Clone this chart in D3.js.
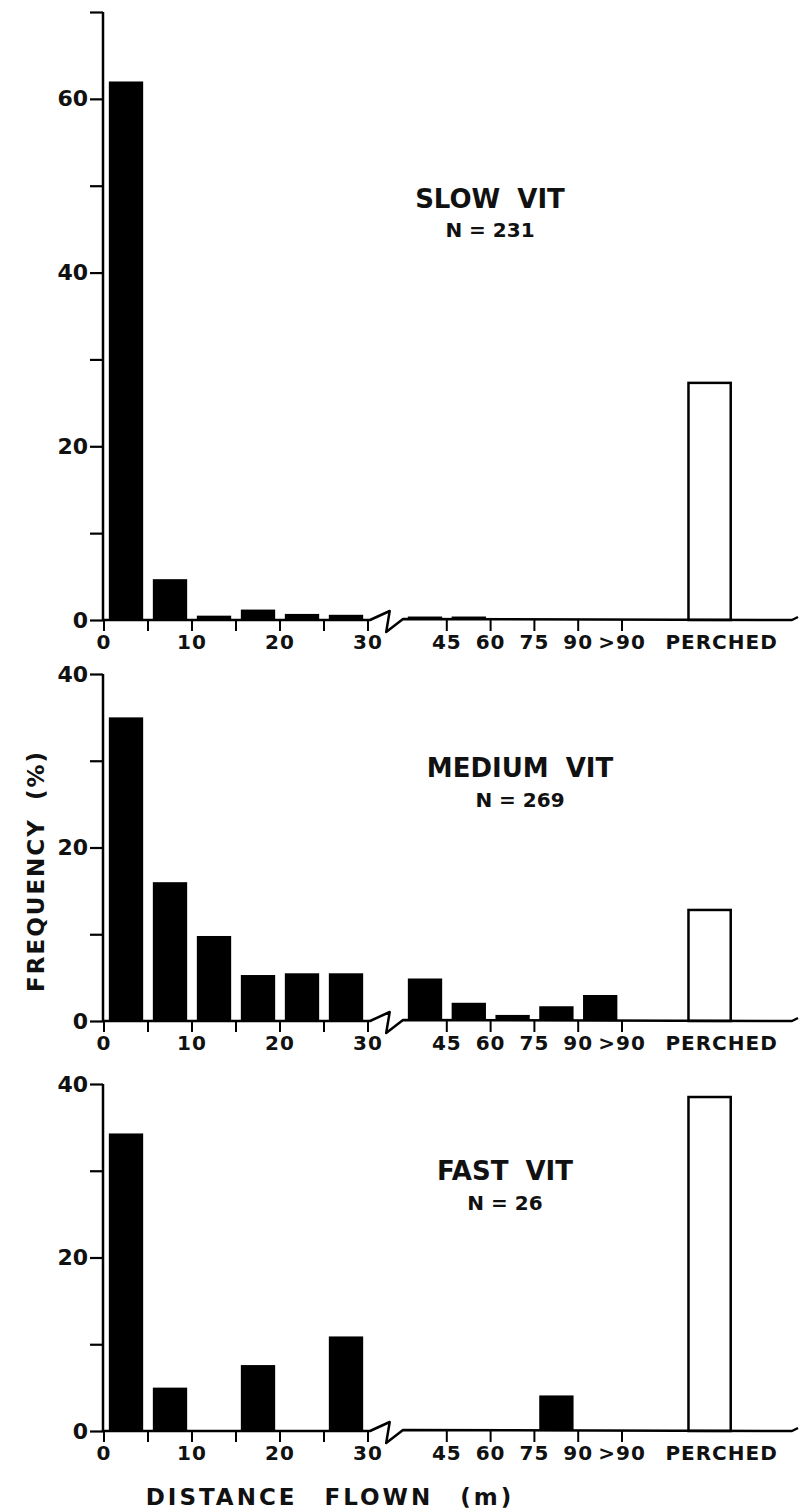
<!DOCTYPE html>
<html>
  <head>
    <title>Distance flown</title>
    <script src="https://d3js.org/d3.v7.min.js"></script>
    <style>
      body { margin: 0; background: #fff; }
      text { font-family: "DejaVu Sans", sans-serif; font-weight: bold; fill: #111; }
      .tick-label { font-size: 20px; letter-spacing: 1px; }
      .y-label { font-size: 22px; }
      .panel-title { font-size: 26px; word-spacing: 8px; }
      .panel-n { font-size: 20px; }
      .axis-title { font-size: 23px; letter-spacing: 3px; word-spacing: 16px; }
    </style>
  </head>
  <body>
    <svg width="810" height="1512"></svg>
    <script>
      // distance bins (m); the axis is broken after 30
      const bins = ["0-5", "5-10", "10-15", "15-20", "20-25", "25-30",
                    "30-45", "45-60", "60-75", "75-90", ">90"];
      const boundaryLabels = ["0", "", "10", "", "20", "", "30",
                              "45", "60", "75", "90", ">90"];

      const panelTitles = ["SLOW  VIT", "MEDIUM  VIT", "FAST  VIT"];
      const panelN = ["N = 231", "N = 269", "N = 26"];
      const yMax = [70, 40, 40];

      const slowValues   = [62, 4.7, 0.5, 1.2, 0.7, 0.6, 0.4, 0.4, 0, 0, 0];
      const mediumValues = [35, 16, 9.8, 5.3, 5.5, 5.5, 4.9, 2.1, 0.7, 1.7, 3.0];
      const fastValues   = [34.3, 5.0, 0, 7.6, 0, 10.9, 0, 0, 0, 4.1, 0];
      const perchedValues = [27.3, 12.8, 38.5];

      const seriesValues = [slowValues, mediumValues, fastValues];

      // layout of the three stacked panels
      const panelLayout = [
        { zero: 620, top: 12, titleX: 490, titleY: 208, nY: 237 },
        { zero: 1021, top: 674, titleX: 520, titleY: 777, nY: 807 },
        { zero: 1431, top: 1084, titleX: 505, titleY: 1180, nY: 1210 }
      ];

      const svg = d3.select("svg");

      // piecewise x: left of break and right of break
      const xLeft = d3.scaleLinear().domain([0, 6]).range([104, 368]);
      const xRight = d3.scaleLinear().domain([6, 11]).range([403, 622]);
      const step = xLeft(1) - xLeft(0);
      const xEdge = i => (i < 6 ? xLeft(i) : xRight(i));
      const xBoundary = i => (i <= 6 ? xLeft(i) : xRight(i));
      const barW = step * 0.78;
      const perchedX = xRight(13);
      const axisEnd = 798;

      panelLayout.forEach((p, k) => {
        const y = d3.scaleLinear().domain([0, yMax[k]]).range([p.zero, p.top]);
        const g = svg.append("g");

        // bars
        g.selectAll(".bar")
          .data(seriesValues[k])
          .enter().append("rect")
            .attr("class", "bar")
            .attr("x", (d, i) => xEdge(i) + (step - barW) / 2)
            .attr("y", d => y(d))
            .attr("width", barW)
            .attr("height", d => y(0) - y(d))
            .attr("fill", "#000");

        // perched bar (open)
        g.append("rect")
          .attr("x", perchedX - step * 0.48)
          .attr("y", y(perchedValues[k]))
          .attr("width", step * 0.96)
          .attr("height", y(0) - y(perchedValues[k]))
          .attr("fill", "#fff")
          .attr("stroke", "#000")
          .attr("stroke-width", 2.5);

        // y axis
        const yAxis = d3.axisLeft(y)
          .tickValues(d3.range(0, yMax[k] + 1, 10))
          .tickSize(13)
          .tickPadding(2)
          .tickFormat(d => (d % 20 === 0 ? d : ""));
        const ya = g.append("g")
          .attr("transform", `translate(${xLeft(0) - 1},0)`)
          .call(yAxis);
        ya.select(".domain").remove();
        ya.selectAll("line").attr("stroke", "#000").attr("stroke-width", 2.2);
        ya.selectAll("text").attr("class", "y-label").attr("fill", "#111");
        g.append("line")
          .attr("x1", xLeft(0) - 1).attr("x2", xLeft(0) - 1)
          .attr("y1", y(0)).attr("y2", y(yMax[k]))
          .attr("stroke", "#000").attr("stroke-width", 2.5);

        // x baseline with break
        const y0 = y(0);
        const bx1 = xLeft(6), bx2 = xRight(6), bw = bx2 - bx1;
        const path = d3.path();
        path.moveTo(xLeft(0) - 1, y0);
        path.lineTo(bx1 + 2, y0);
        path.lineTo(bx1 + bw * 0.62, y0 - 9);
        path.lineTo(bx1 + bw * 0.52, y0 + 12);
        path.lineTo(bx2, y0 - 1);
        path.lineTo(axisEnd - 6, y0);
        path.lineTo(axisEnd, y0 - 3);
        g.append("path")
          .attr("d", path.toString())
          .attr("fill", "none")
          .attr("stroke", "#000")
          .attr("stroke-width", 2.5)
          .attr("stroke-linejoin", "round");

        // x ticks
        const ticks = g.selectAll(".xtick")
          .data(boundaryLabels)
          .enter().append("g")
            .attr("class", "xtick")
            .attr("transform", (d, i) => `translate(${xBoundary(i)},${y0})`);
        ticks.append("line")
          .attr("y1", 0).attr("y2", 11)
          .attr("stroke", "#000").attr("stroke-width", 2);
        ticks.append("text")
          .attr("class", "tick-label")
          .attr("y", 29)
          .attr("text-anchor", "middle")
          .text(d => d);
        g.append("text")
          .attr("class", "tick-label")
          .attr("x", perchedX + 12)
          .attr("y", y0 + 29)
          .attr("text-anchor", "middle")
          .text("PERCHED");

        // panel title
        g.append("text")
          .attr("class", "panel-title")
          .attr("x", p.titleX)
          .attr("y", p.titleY)
          .attr("text-anchor", "middle")
          .text(panelTitles[k]);
        g.append("text")
          .attr("class", "panel-n")
          .attr("x", p.titleX)
          .attr("y", p.nY)
          .attr("text-anchor", "middle")
          .text(panelN[k]);
      });

      // axis titles
      svg.append("text")
        .attr("class", "axis-title")
        .attr("x", 330)
        .attr("y", 1505)
        .attr("text-anchor", "middle")
        .text("DISTANCE FLOWN (m)");

      svg.append("text")
        .attr("class", "axis-title")
        .attr("transform", "translate(44,871) rotate(-90)")
        .attr("text-anchor", "middle")
        .style("letter-spacing", "2px")
        .style("word-spacing", "8px")
        .text("FREQUENCY (%)");
    </script>
  </body>
</html>
